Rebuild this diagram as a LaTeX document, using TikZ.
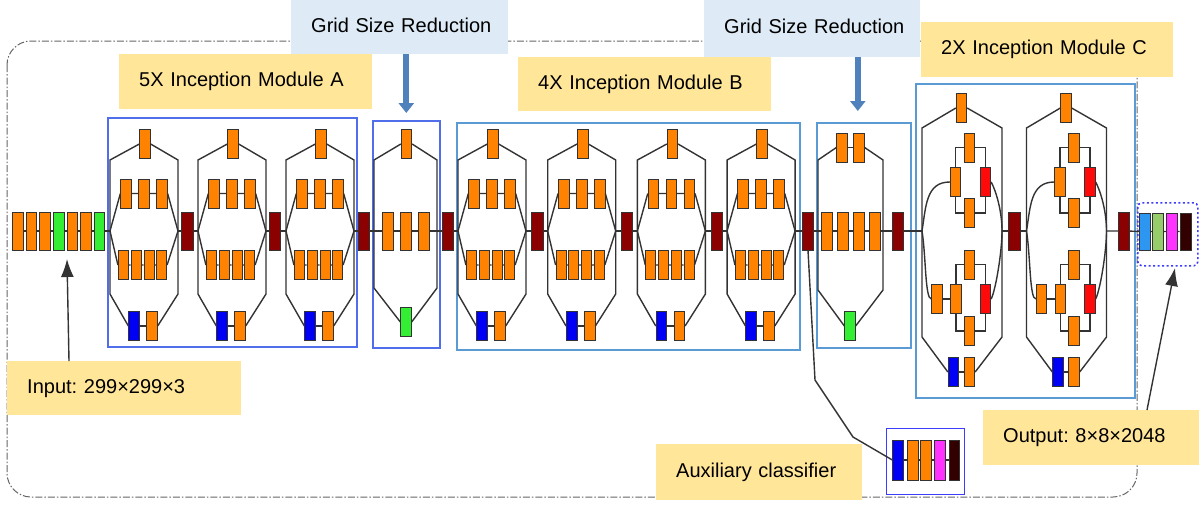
\documentclass[tikz,border=0pt]{standalone}
\usepackage{fontspec}
\setmainfont{Liberation Sans}
\usetikzlibrary{arrows.meta}

\definecolor{orng}{RGB}{255,131,0}
\definecolor{grn}{RGB}{51,238,51}
\definecolor{catred}{RGB}{139,0,0}
\definecolor{blu}{RGB}{0,0,245}
\definecolor{rd}{RGB}{255,10,10}
\definecolor{skyb}{RGB}{45,150,240}
\definecolor{lgrn}{RGB}{150,204,105}
\definecolor{mag}{RGB}{255,51,255}
\definecolor{dbrn}{RGB}{51,0,0}
\definecolor{yel}{RGB}{255,230,153}
\definecolor{pale}{RGB}{222,235,247}
\definecolor{modb}{RGB}{91,155,213}
\definecolor{modv}{RGB}{80,110,235}
\definecolor{auxb}{RGB}{60,60,255}
\definecolor{arrb}{RGB}{79,129,189}

\begin{document}
\begin{tikzpicture}[x=1pt, y=-1pt,
    box/.style={draw=black!80, line width=0.8pt, inner sep=0pt,
        minimum width=10.5pt, minimum height=29pt},
    ob/.style={box, fill=orng},
    obig/.style={ob, minimum height=38pt},
    bb/.style={box, fill=blu},
    gb/.style={box, fill=grn},
    rb/.style={box, fill=rd},
    cat/.style={box, fill=catred, minimum width=11.5pt, minimum height=38pt},
    ln/.style={draw=black!80, line width=1.4pt},
    arr/.style={ln, -{Latex[length=18pt,width=13pt]}},
    redarr/.style={draw=arrb, line width=6pt, -{Triangle[length=10pt,width=15pt]}},
    mod/.style={draw=modb, line width=1.6pt, anchor=north west, inner sep=0pt},
    lab/.style={fill=yel, anchor=north west, inner xsep=20pt, inner ysep=0pt,
        align=left, text height=14.5pt, text depth=4pt, text=black,
        font=\fontsize{20}{24}\selectfont\frenchspacing}]
    \useasboundingbox (0,0) rectangle (1199,504);

    % ================= FRAME =================
    \draw[black!60, line width=1pt, dash pattern=on 7pt off 2pt on 1.5pt off 2pt,
        rounded corners=24pt] (7,41) rectangle (1137,497);

    % ================= MODULE BOXES =================
    \node[mod, draw=modv, minimum width=249pt, minimum height=229pt] (mA) at (107,117) {};
    \node[mod, draw=modv, minimum width=67pt, minimum height=227pt] (g1box) at (372,120) {};
    \node[mod, minimum width=343pt, minimum height=227pt] (mB) at (456,122) {};
    \node[mod, minimum width=94pt, minimum height=225pt] (g2box) at (816,122) {};
    \node[mod, minimum width=219pt, minimum height=314pt] (mC) at (915,83) {};

    % ================= STEM =================
    \foreach \i/\col in {1/orng,2/orng,3/orng,4/grn,5/orng,6/orng,7/grn}
        \node[box, fill=\col, minimum height=38pt] (s\i) at ({18+13.55*(\i-1)},231) {};

    % Concatenations
    \foreach \ct/\cx in {ca1/187.5,ca2/275,ca3/364,cg1/448,cb1/537.5,cb2/627,cb3/717,
                         cb4/808,cg2/898,cc1/1014.5,cc2/1124}
        \node[cat] (\ct) at (\cx,231) {};

    % ================= MODULES A AND B =================
    \foreach \bk/\bx in {a1/110,a2/198,a3/286,b1/458,b2/547.7,b3/637.4,b4/727.1} {
    \begin{scope}[shift={(\bx,231)}, name prefix=\bk-]
        \coordinate (L) at (0,0);
        \coordinate (R) at (68,0);
        \node[ob] (t) at (35,-87) {};
        \node[ob] (p1) at (16,-37.5) {};
        \node[ob] (p2) at (34,-37.5) {};
        \node[ob] (p3) at (52,-37.5) {};
        \node[ob, minimum width=10pt] (q1) at (13.3,34) {};
        \node[ob, minimum width=10pt] (q2) at (26,34) {};
        \node[ob, minimum width=10pt] (q3) at (39,34) {};
        \node[ob, minimum width=10pt] (q4) at (51.7,34) {};
        \node[bb] (u1) at (24,95) {};
        \node[ob] (u2) at (42,95) {};
        \draw[ln] (t.west) -- (0,-71) -- (0,63) -- (u1.west);
        \draw[ln] (t.east) -- (68,-71) -- (68,63) -- (u2.east);
        \draw[ln] (L) -- (p1.west) (p1) -- (p2) -- (p3) (p3.east) -- (R);
        \draw[ln] (L) -- (q1.west) (q1) -- (q2) -- (q3) -- (q4) (q4.east) -- (R);
        \draw[ln] (u1) -- (u2);
    \end{scope}}

    % ================= GRID REDUCTIONS =================
    \begin{scope}[shift={(374,231)}, name prefix=g1-]
        \coordinate (L) at (0,0);
        \coordinate (R) at (63,0);
        \node[ob] (t) at (32.5,-87) {};
        \node[obig] (m1) at (14,0) {};
        \node[obig] (m2) at (32,0) {};
        \node[obig] (m3) at (50,0) {};
        \node[gb] (gb) at (32,91) {};
        \draw[ln] (t.west) -- (0,-71) -- (0,57) -- (gb.west);
        \draw[ln] (t.east) -- (63,-71) -- (63,57) -- (gb.east);
        \draw[ln] (L) -- (m1) -- (m2) -- (m3) -- (R);
    \end{scope}

    \begin{scope}[shift={(818,231)}, name prefix=g2-]
        \coordinate (L) at (0,0);
        \coordinate (R) at (65,0);
        \node[ob] (t1) at (24,-83.5) {};
        \node[ob] (t2) at (41,-83.5) {};
        \node[obig] (m1) at (9,0) {};
        \node[obig] (m2) at (25,0) {};
        \node[obig] (m3) at (41,0) {};
        \node[obig] (m4) at (57,0) {};
        \node[gb] (gb) at (32,95) {};
        \draw[ln] (t1.west) -- (0,-71) -- (0,59) -- (gb.west);
        \draw[ln] (t2.east) -- (65,-71) -- (65,59) -- (gb.east);
        \draw[ln] (t1) -- (t2);
        \draw[ln] (L) -- (m1) -- (m2) -- (m3) -- (m4) -- (R);
    \end{scope}

    % ================= MODULE C =================
    \foreach \bk/\bx in {c1/922,c2/1026.5} {
    \begin{scope}[shift={(\bx,231)}, name prefix=\bk-]
        \coordinate (L) at (0,0);
        \coordinate (R) at (80,0);
        \node[ob] (t) at (39.5,-123) {};
        % upper loop
        \node[ob] (ul) at (33.5,-49) {};
        \node[ob] (ut) at (47.5,-83.5) {};
        \node[ob] (ub) at (47.5,-18) {};
        \node[rb] (ur) at (63.5,-49) {};
        % lower loop
        \node[ob] (le) at (15,68) {};
        \node[ob] (ll) at (34,68) {};
        \node[ob] (lt) at (47.5,33.5) {};
        \node[ob] (lb) at (47.5,100) {};
        \node[rb] (lr) at (63.5,68) {};
        \node[bb] (u1) at (31.5,141) {};
        \node[ob] (u2) at (47.5,141) {};
        \draw[ln] (t.west) -- (0,-103) -- (0,106) -- (u1.west);
        \draw[ln] (t.east) -- (80,-103) -- (80,106) -- (u2.east);
        \draw[ln] (u1) -- (u2);
        \draw[ln] (ul.north) |- (ut.west) (ut.east) -| (ur.north);
        \draw[ln] (ul.south) |- (ub.west) (ub.east) -| (ur.south);
        \draw[ln] (ll.north) |- (lt.west) (lt.east) -| (lr.north);
        \draw[ln] (ll.south) |- (lb.west) (lb.east) -| (lr.south);
        \draw[ln] (le) -- (ll);
        \draw[ln] (L) .. controls (4,-25) and (4,-49) .. (ul.west);
        \draw[ln] (L) .. controls (4,25) and (3,68) .. (le.west);
        \draw[ln] (ur.east) .. controls (74,-40) and (80,-20) .. (R);
        \draw[ln] (lr.east) .. controls (74,58) and (80,20) .. (R);
    \end{scope}}

    % Main line
    \draw[ln] (s1) -- (s2) -- (s3) -- (s4) -- (s5) -- (s6) -- (s7) -- (a1-L);
    \foreach \pa/\ct/\nx in {a1/ca1/a2,a2/ca2/a3,a3/ca3/g1,g1/cg1/b1,b1/cb1/b2,
                             b2/cb2/b3,b3/cb3/b4,b4/cb4/g2,g2/cg2/c1,c1/cc1/c2}
        \draw[ln] (\pa-R) -- (\ct) -- (\nx-L);

    % ================= OUTPUT =================
    \node[mod, draw=auxb, dash pattern=on 2pt off 2.5pt, rounded corners=4pt,
        minimum width=60pt, minimum height=63pt] (outgrp) at (1137,202) {};
    \node[box, fill=skyb, minimum height=37pt] (o1) at (1145,231.5) {};
    \node[box, fill=lgrn, minimum height=37pt] (o2) at (1158,231.5) {};
    \node[box, fill=mag, minimum height=37pt] (o3) at (1172,231.5) {};
    \node[box, fill=dbrn, minimum height=37pt, minimum width=11pt] (o4) at (1185.5,231.5) {};
    \draw[ln] (c2-R) -- (cc2) -- (o1) (o1) -- (o2) -- (o3) -- (o4);

    % ================= AUXILIARY =================
    \node[mod, draw=auxb, line width=1.3pt, minimum width=78pt, minimum height=66pt]
        (auxbox) at (886,428) {};
    \foreach \i/\col/\ax in {1/blu/898,2/orng/913,3/orng/926,4/mag/940,5/dbrn/954.5}
        \node[box, fill=\col, minimum height=40pt] (ax\i) at (\ax,460) {};
    \draw[ln] (ax1) -- (ax2) -- (ax3) -- (ax4) -- (ax5);
    \draw[ln] (cb4.south) -- (815,380) -- (853,437) -- (ax1.west);

    % ================= LABELS =================
    \node[lab, fill=pale, text width=177pt, minimum height=54pt] (gsr1) at (291,0) {\mbox{Grid Size Reduction}};
    \node[lab, fill=pale, text width=176pt, minimum height=57pt] (gsr2) at (704,0) {\mbox{Grid Size Reduction}};
    \node[lab, text width=213pt, minimum height=55pt] (labA) at (119,54) {\mbox{5X Inception Module A}};
    \node[lab, text width=213pt, minimum height=54pt] (labB) at (518,57) {\mbox{4X Inception Module B}};
    \node[lab, text width=212pt, minimum height=55pt] (labC) at (921,22) {\mbox{2X Inception Module C}};
    \node[lab, text width=194pt, minimum height=54pt] (labIn) at (7,361) {\mbox{Input: 299×299×3}};
    \node[lab, text width=166pt, minimum height=56pt] (labAux) at (656,444) {\mbox{Auxiliary classifier}};
    \node[lab, text width=176pt, minimum height=55pt] (labOut) at (983,410) {\mbox{Output: 8×8×2048}};

    % Arrows
    \coordinate (inTip) at (67,259);
    \coordinate (outTip) at (1175,268);
    \draw[arr] ([xshift=62pt]labIn.north west) -- (inTip);
    \draw[arr] ([xshift=164pt]labOut.north west) -- (outTip);
    \draw[redarr] (gsr1.south -| g1box.north) -- ([yshift=7pt]g1box.north);
    \draw[redarr] ([xshift=-6pt]gsr2.south -| g2box.north) -- ([xshift=-6pt,yshift=11pt]g2box.north);
\end{tikzpicture}
\end{document}
